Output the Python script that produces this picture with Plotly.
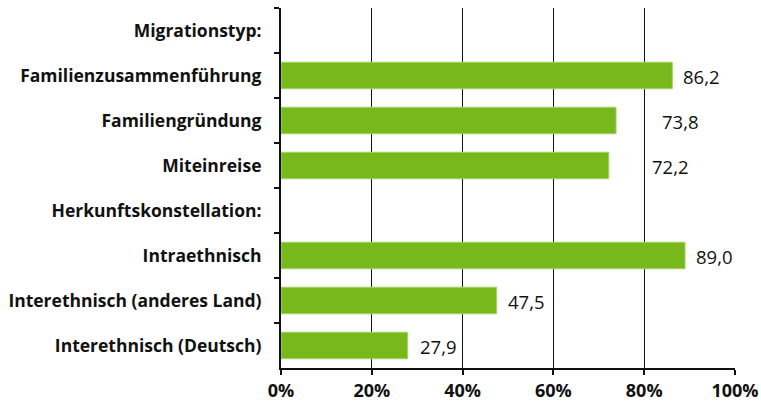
import plotly.graph_objects as go

categories = [
    "Migrationstyp:",
    "Familienzusammenführung",
    "Familiengründung",
    "Miteinreise",
    "Herkunftskonstellation:",
    "Intraethnisch",
    "Interethnisch (anderes Land)",
    "Interethnisch (Deutsch)",
]
values = [None, 86.2, 73.8, 72.2, None, 89.0, 47.5, 27.9]
value_labels = ["", "86,2", "73,8", "72,2", "", "89,0", "47,5", "27,9"]
label_gap_px = [0, 9, 44, 41, 0, 9, 9, 10]
tick_vals = [0, 20, 40, 60, 80, 100]
tick_text = ["0%", "20%", "40%", "60%", "80%", "100%"]

FONT = "Open Sans"
GREEN = "#77B81B"

fig = go.Figure()
fig.add_trace(go.Bar(
    y=categories, x=values, orientation="h",
    marker=dict(color=GREEN, line=dict(color="#A6D36A", width=1)),
    width=0.59, hoverinfo="skip",
))

for c, v, t, g in zip(categories, values, value_labels, label_gap_px):
    if v is None:
        continue
    fig.add_annotation(
        x=v, y=c, text=t, showarrow=False, xanchor="left", yanchor="middle",
        xshift=g, yshift=-1, font=dict(family=FONT, size=18.5, color="#111111"),
    )

fig.update_layout(
    width=761, height=406,
    margin=dict(l=281, r=26, t=8, b=38),
    plot_bgcolor="white", paper_bgcolor="white",
    showlegend=False,
    font=dict(family=FONT, color="#111111"),
)
fig.update_xaxes(
    range=[0, 100], tickvals=tick_vals, ticktext=tick_text,
    showgrid=True, gridcolor="#111111", gridwidth=1,
    showline=True, linecolor="#111111", linewidth=2,
    ticks="outside", ticklen=5, tickwidth=2, tickcolor="#111111",
    tickfont=dict(family=FONT, size=18, color="#111111", weight="bold"),
    zeroline=False, fixedrange=True, automargin=False,
)
fig.update_yaxes(
    categoryorder="array", categoryarray=categories, autorange="reversed",
    showline=True, linecolor="#111111", linewidth=2,
    ticks="outside", ticklen=5, tickwidth=2, tickcolor="#111111",
    tickson="boundaries", showgrid=False,
    tickfont=dict(family=FONT, size=17.5, color="#111111", weight="bold"),
    ticklabelstandoff=14, fixedrange=True, automargin=False,
)

fig.write_html(
    "out.html",
    config={"displayModeBar": False},
    post_script="document.body.style.margin='0';document.body.style.overflow='hidden';",
)
